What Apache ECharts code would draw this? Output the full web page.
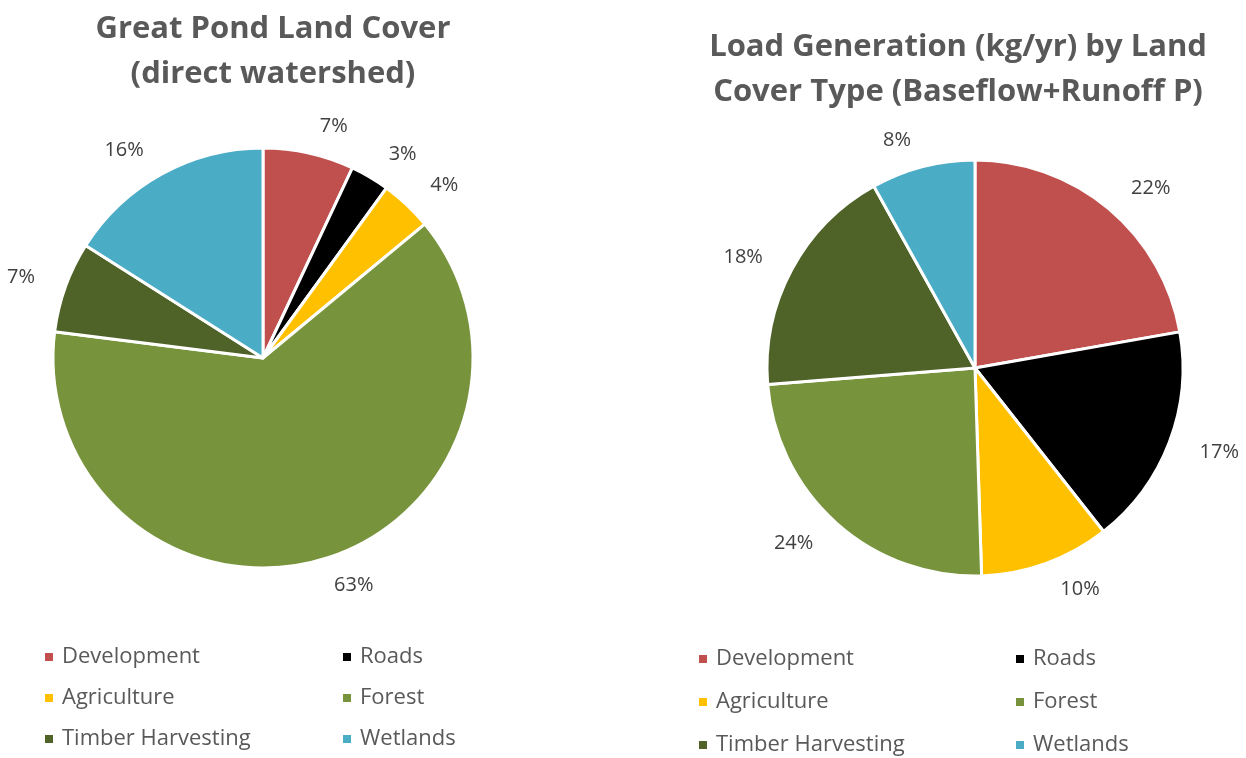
<!DOCTYPE html>
<html>
<head>
<meta charset="utf-8">
<script src="https://cdn.jsdelivr.net/npm/echarts@6/dist/echarts.min.js"></script>
<style>
  html, body { margin: 0; padding: 0; background: #fff; }
  #main { width: 1246px; height: 758px; }
</style>
</head>
<body>
<div id="main"></div>
<script>
// land cover categories (same for both pies)
const categories = ['Development', 'Roads', 'Agriculture', 'Forest', 'Timber Harvesting', 'Wetlands']
const colors = ['#C0504D', '#000000', '#FFC000', '#77933C', '#4F6228', '#4BACC6']
// percent of direct watershed area
const landCover = [7, 3, 4, 63, 7, 16]
// percent of P load by land cover
const loadGen = [22, 17, 10, 24, 18, 8]

const font = 'Open Sans'
const textColor = '#595959'

function pieData (vals) {
  return categories.map((name, i) => ({
    name: name,
    value: vals[i],
    itemStyle: { color: colors[i] }
  }))
}

function legendCol (names, left, top, gap) {
  return {
    data: names,
    orient: 'vertical',
    left: left,
    top: top,
    height: 160,
    icon: 'rect',
    itemWidth: 10,
    itemHeight: 10,
    itemGap: gap,
    selectedMode: false,
    textStyle: { fontFamily: font, fontSize: 22, color: textColor, lineHeight: 22, padding: [0, 0, 0, 3] }
  }
}

const pieCommon = {
  type: 'pie',
  startAngle: 90,
  clockwise: true,
  silent: true,
  itemStyle: { borderColor: '#fff', borderWidth: 3 },
  label: {
    show: true,
    position: 'outside',
    formatter: '{c}%',
    fontFamily: font,
    fontSize: 20,
    color: '#404040',
    overflow: 'none'
  },
  labelLine: { show: false, length: 27, length2: 0 },
  emphasis: { disabled: true }
}

const chart = echarts.init(document.getElementById('main'))
chart.setOption({
  animation: false,
  title: [
    {
      text: 'Great Pond Land Cover\n(direct watershed)',
      left: 268,
      top: 2,
      textAlign: 'center',
      textStyle: { fontFamily: font, fontSize: 31, fontWeight: 'bold', color: textColor, lineHeight: 45 }
    },
    {
      text: 'Load Generation (kg/yr) by Land\nCover Type (Baseflow+Runoff P)',
      left: 953,
      top: 20,
      textAlign: 'center',
      textStyle: { fontFamily: font, fontSize: 31, fontWeight: 'bold', color: textColor, lineHeight: 45 }
    }
  ],
  legend: [
    legendCol(['Development', 'Agriculture', 'Timber Harvesting'], 38, 641, 19),
    legendCol(['Roads', 'Forest', 'Wetlands'], 336, 641, 19),
    legendCol(['Development', 'Agriculture', 'Timber Harvesting'], 692, 643, 21),
    legendCol(['Roads', 'Forest', 'Wetlands'], 1009, 643, 21)
  ],
  series: [
    Object.assign({}, pieCommon, {
      name: 'Land Cover',
      center: [263, 358],
      radius: 210,
      data: pieData(landCover)
    }),
    Object.assign({}, pieCommon, {
      name: 'Load Generation',
      center: [975, 368],
      radius: 208,
      data: pieData(loadGen)
    })
  ]
})
</script>
</body>
</html>
